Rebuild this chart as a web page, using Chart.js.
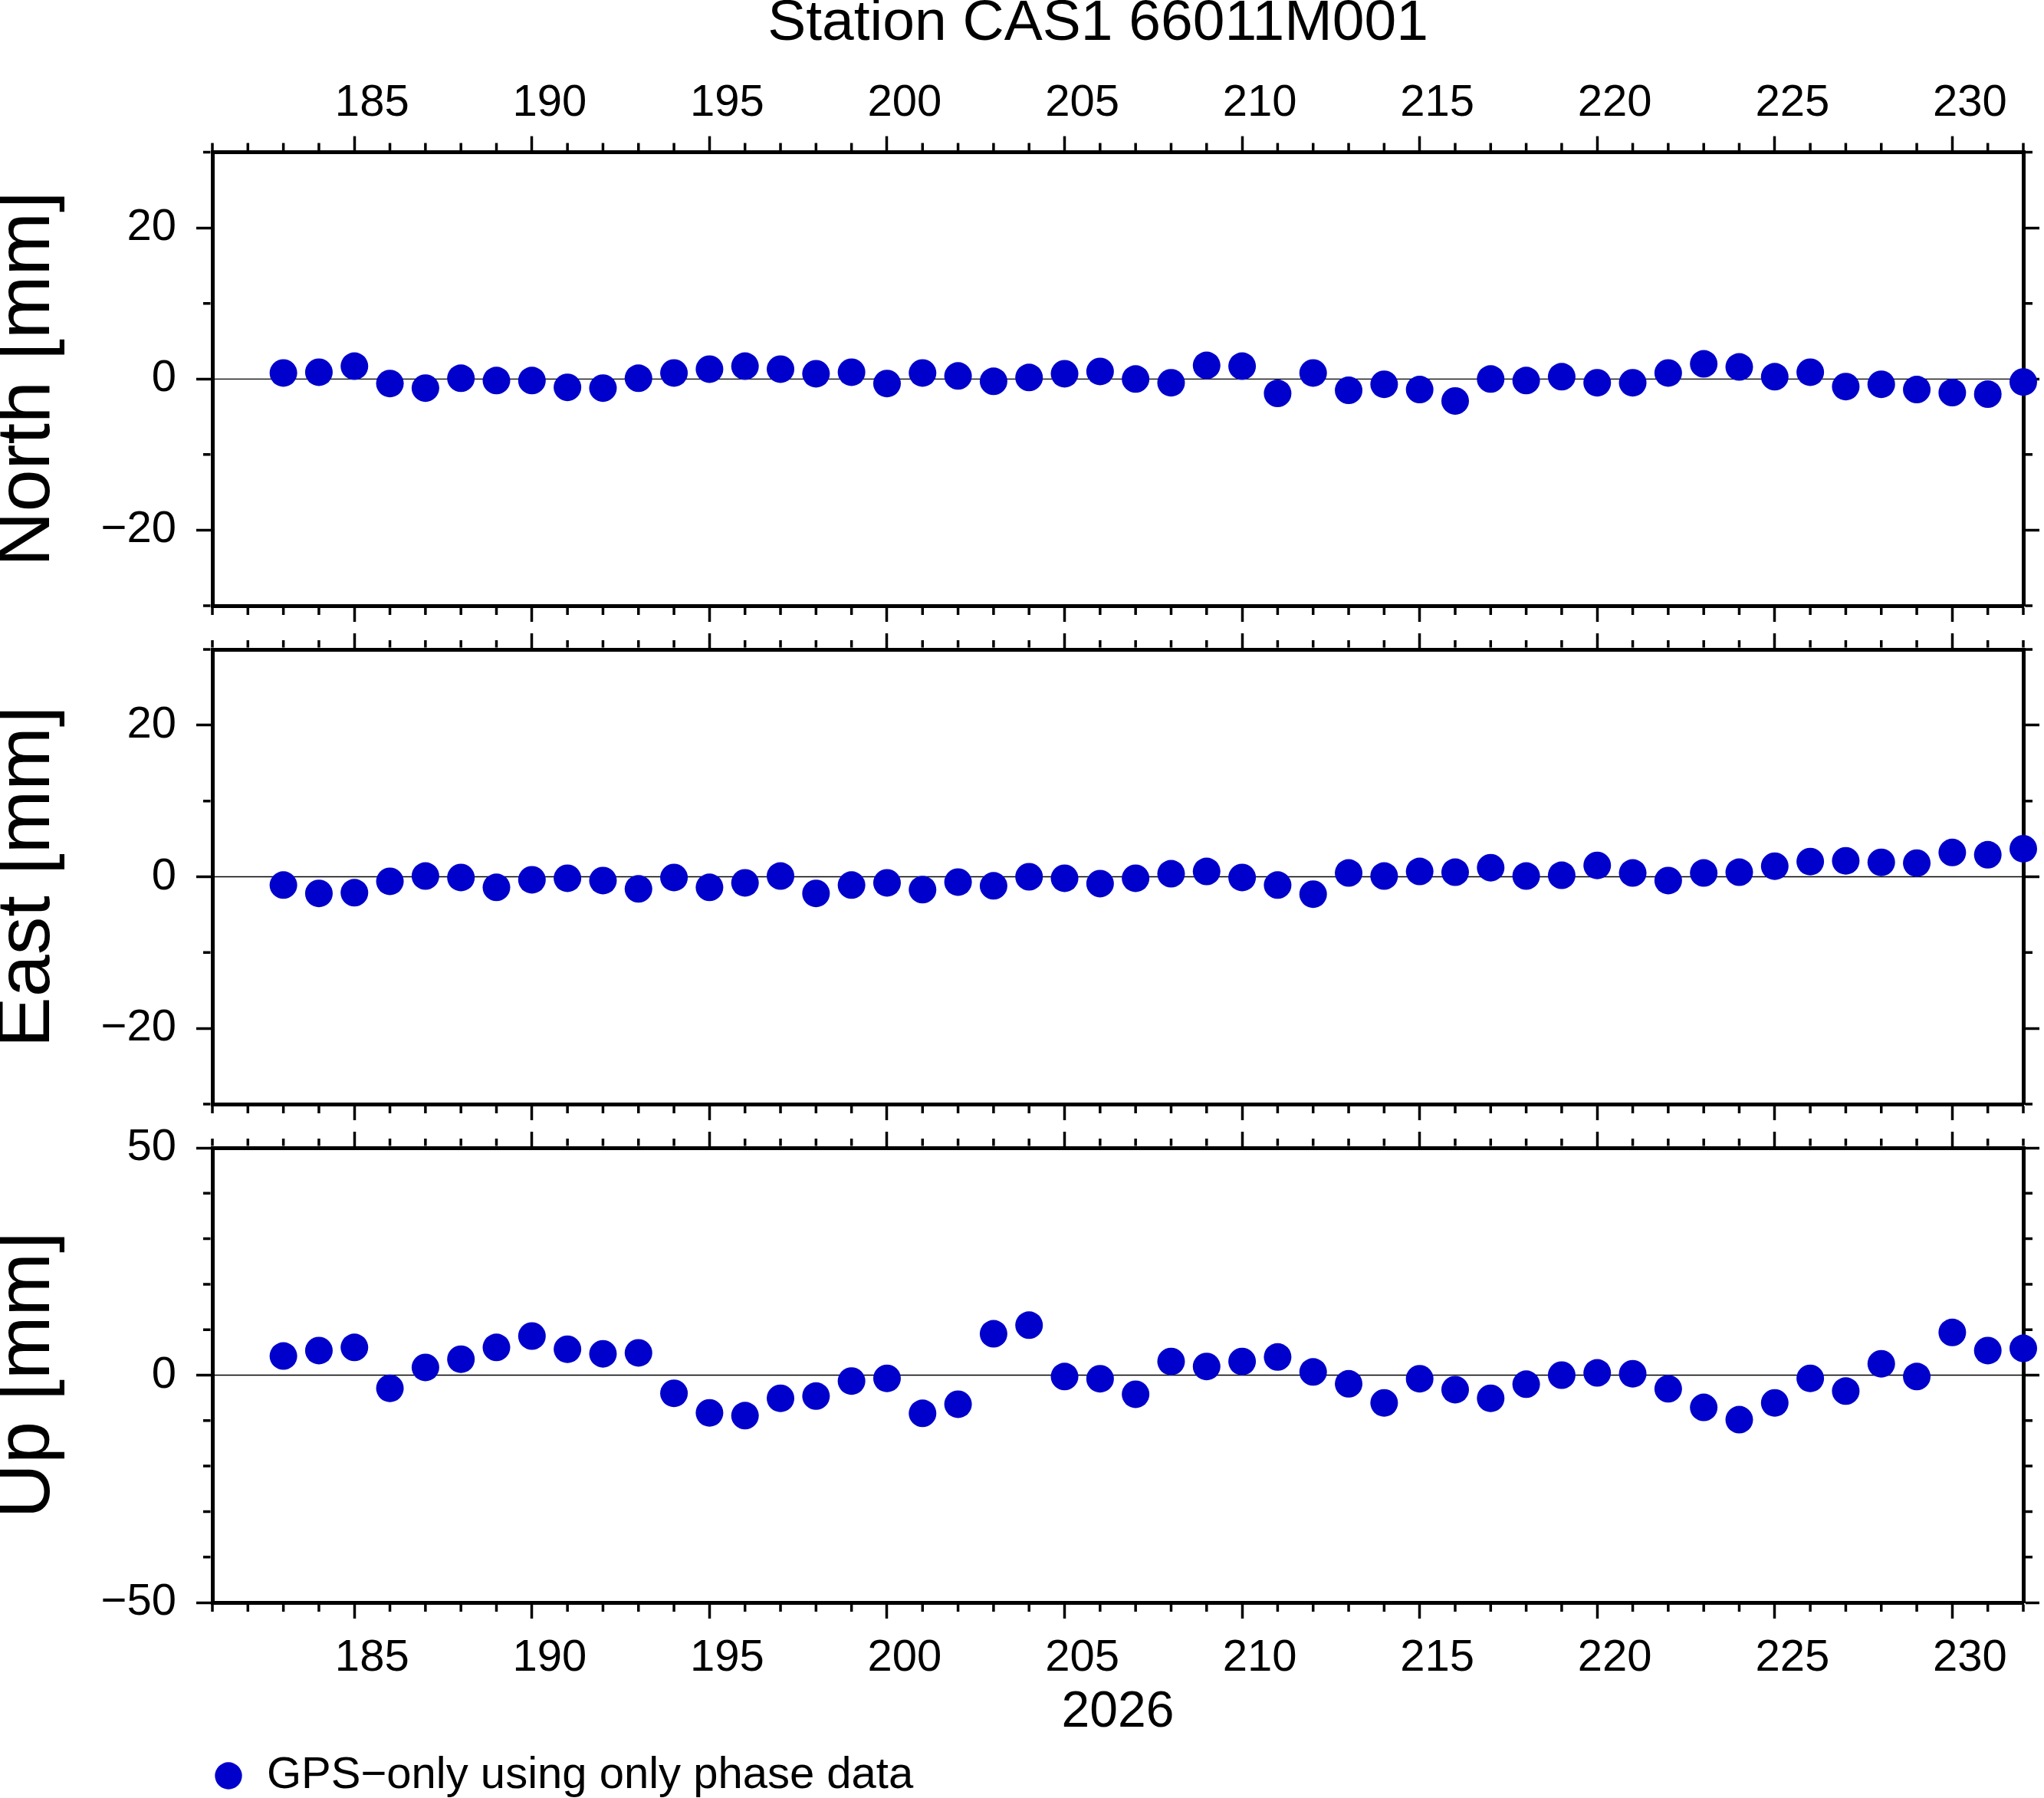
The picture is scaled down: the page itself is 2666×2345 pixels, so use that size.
<!DOCTYPE html>
<html>
<head>
<meta charset="utf-8">
<title>Station CAS1 66011M001</title>
<script src="https://cdn.jsdelivr.net/npm/chart.js@4.4.1/dist/chart.umd.min.js"></script>
<style>
  html, body { margin: 0; padding: 0; background: #fff; overflow: hidden; }
  #page { position: relative; width: 2666px; height: 2345px; overflow: hidden; background: #fff; }
  #page canvas { position: absolute; left: 0; }
</style>
</head>
<body>
<div id="page">
  <canvas id="northChart" width="2864" height="820" style="top:0px"></canvas>
  <canvas id="eastChart" width="2666" height="653" style="top:817px"></canvas>
  <canvas id="upChart" width="2666" height="888" style="top:1467px"></canvas>
</div>
<script>
// day of year 2026
const days = [183, 184, 185, 186, 187, 188, 189, 190, 191, 192,
              193, 194, 195, 196, 197, 198, 199, 200, 201, 202,
              203, 204, 205, 206, 207, 208, 209, 210, 211, 212,
              213, 214, 215, 216, 217, 218, 219, 220, 221, 222,
              223, 224, 225, 226, 227, 228, 229, 230, 231, 232];

// residuals in mm
const north = [0.8, 0.9, 1.7, -0.6, -1.2, 0.1, -0.2, -0.2, -1.1, -1.2,
               0.1, 0.8, 1.3, 1.7, 1.3, 0.7, 0.9, -0.6, 0.8, 0.4,
               -0.3, 0.2, 0.7, 1.0, 0.0, -0.5, 1.8, 1.7, -1.9, 0.8,
               -1.5, -0.7, -1.4, -2.9, 0.0, -0.2, 0.3, -0.5, -0.5, 0.8,
               2.0, 1.6, 0.3, 0.9, -1.0, -0.7, -1.4, -1.8, -2.0, -0.4];
const east = [-1.1, -2.2, -2.1, -0.6, 0.1, -0.1, -1.4, -0.4, -0.2, -0.5,
              -1.6, -0.1, -1.4, -0.8, 0.1, -2.2, -1.1, -0.8, -1.7, -0.7,
              -1.2, 0.0, -0.2, -0.9, -0.2, 0.4, 0.7, -0.1, -1.1, -2.3,
              0.5, 0.1, 0.7, 0.6, 1.2, 0.1, 0.2, 1.5, 0.5, -0.5,
              0.5, 0.6, 1.4, 2.0, 2.1, 1.9, 1.8, 3.2, 2.9, 3.7];
const up = [4.2, 5.4, 6.1, -2.9, 1.7, 3.5, 6.1, 8.6, 5.7, 4.7,
            4.9, -4.0, -8.3, -8.9, -5.1, -4.6, -1.3, -0.7, -8.4, -6.4,
            9.1, 11.0, -0.3, -0.8, -4.2, 3.0, 1.9, 3.0, 4.0, 0.7,
            -1.9, -6.1, -0.8, -3.2, -5.1, -2.0, 0.0, 0.5, 0.3, -3.0,
            -7.1, -9.8, -6.1, -0.7, -3.5, 2.5, -0.3, 9.4, 5.4, 5.9];

// axes
const xRange = [181, 232];
const xTicks = [185, 190, 195, 200, 205, 210, 215, 220, 225, 230];
const neRange = [-30, 30];
const neTicks = [-20, 0, 20];
const upRange = [-50, 50];
const upTicks = [-50, 0, 50];

const plotTitle = 'Station CAS1 66011M001';
const yearLabel = '2026';
const seriesLabel = 'GPS\u2212only using only phase data';
const dotColor = '#0000cc';

Chart.defaults.font.family = "'Liberation Sans', Arial, Helvetica, sans-serif";
Chart.defaults.color = '#000';

function fmt(v) {
    return v < 0 ? '\u2212' + Math.abs(v) : String(v);
}

// minor ticks + zero line, placed through the chart's own scales
const frameExtras = {
    id: 'frameExtras',
    beforeDatasetsDraw(chart, args, opts) {
        const { ctx, chartArea: a, scales } = chart;
        ctx.save();
        ctx.strokeStyle = '#000';

        const y0 = scales.y.getPixelForValue(0);
        ctx.lineWidth = 1.3;
        ctx.beginPath();
        ctx.moveTo(a.left, y0);
        ctx.lineTo(a.right, y0);
        ctx.stroke();

        ctx.lineWidth = 3.5;
        ctx.beginPath();
        const xs = scales.x;
        const xMajor = xs.ticks.map(t => t.value);
        for (let v = Math.ceil(xs.min); v <= xs.max; v += opts.xMinor) {
            if (xMajor.includes(v)) continue;
            const px = xs.getPixelForValue(v);
            ctx.moveTo(px, a.top - 2.5); ctx.lineTo(px, a.top - 12);
            ctx.moveTo(px, a.bottom + 2.5); ctx.lineTo(px, a.bottom + 12);
        }
        const ys = scales.y;
        const yMajor = ys.ticks.map(t => t.value);
        for (let v = ys.min; v <= ys.max; v += opts.yMinor) {
            if (yMajor.includes(v)) continue;
            const py = ys.getPixelForValue(v);
            ctx.moveTo(a.left - 2.5, py); ctx.lineTo(a.left - 12, py);
            ctx.moveTo(a.right + 2.5, py); ctx.lineTo(a.right + 12, py);
        }
        ctx.stroke();
        ctx.restore();
    }
};

const tickFont = { size: 58, lineHeight: 1 };
const frameBorder = { display: true, color: '#000', width: 5 };
const tickGrid = { drawOnChartArea: false, color: '#000', tickLength: 21, tickWidth: 3.5 };

function xAxis(position, showLabels, size, title) {
    return {
        type: 'linear',
        position: position,
        min: xRange[0],
        max: xRange[1],
        afterBuildTicks: axis => { axis.ticks = xTicks.map(v => ({ value: v })); },
        ticks: {
            display: showLabels, autoSkip: false, maxRotation: 0, minRotation: 0,
            labelOffset: 23, padding: position === 'top' ? 14 : 23, color: '#000', font: tickFont,
            callback: v => fmt(v)
        },
        grid: tickGrid,
        border: frameBorder,
        title: title
            ? { display: true, text: title, color: '#000', font: { size: 66, lineHeight: 1 }, padding: { top: 0, bottom: 20 } }
            : { display: false },
        afterFit: s => {
            s.height = size;
            s.paddingLeft = 0; s.paddingRight = 0; s.paddingTop = 0; s.paddingBottom = 0;
        }
    };
}

function yAxis(position, range, tickVals, label, size) {
    return {
        type: 'linear',
        position: position,
        min: range[0],
        max: range[1],
        afterBuildTicks: axis => { axis.ticks = tickVals.map(v => ({ value: v })); },
        ticks: {
            display: !!label, padding: 26, color: '#000', font: tickFont,
            callback: v => fmt(v)
        },
        grid: tickGrid,
        border: frameBorder,
        title: label
            ? { display: true, text: label, color: '#000', font: { size: 99, lineHeight: 0.6 }, padding: { top: 7, bottom: 0 } }
            : { display: false },
        afterFit: s => {
            s.width = size;
            s.paddingLeft = 0; s.paddingRight = 0; s.paddingTop = 0; s.paddingBottom = 0;
        }
    };
}

function makePanel(id, values, yLabel, range, tickVals, cfg) {
    const el = document.getElementById(id);
    if (!el) return;
    const points = days.map((d, i) => ({ x: d, y: values[i] }));
    new Chart(el, {
        type: 'scatter',
        data: {
            datasets: [{
                label: seriesLabel,
                data: points,
                xAxisID: 'x',
                yAxisID: 'y',
                pointStyle: 'circle',
                pointRadius: 18,
                pointHoverRadius: 18,
                backgroundColor: dotColor,
                borderWidth: 0,
                clip: false
            }]
        },
        options: {
            responsive: false,
            animation: false,
            events: [],
            layout: { padding: 0, autoPadding: false },
            scales: {
                x: xAxis('bottom', cfg.bottomLabels, cfg.bottomSize, cfg.bottomTitle),
                x2: xAxis('top', cfg.topLabels, cfg.topSize, null),
                y: yAxis('left', range, tickVals, yLabel, 277),
                y2: yAxis('right', range, tickVals, null, cfg.rightSize)
            },
            plugins: {
                title: cfg.title
                    ? { display: true, text: cfg.title, color: '#000', font: { size: 75, weight: 'normal', lineHeight: 0.8 }, padding: { top: 1, bottom: 0 } }
                    : { display: false },
                legend: cfg.legend
                    ? {
                        display: true, position: 'bottom', align: 'start', fullSize: false,
                        labels: {
                            usePointStyle: true, pointStyle: 'circle', boxWidth: 42, boxHeight: 25,
                            padding: 0, color: '#000', font: { size: 58 }
                        }
                    }
                    : { display: false },
                tooltip: { enabled: false },
                frameExtras: { xMinor: 1, yMinor: 10 }
            }
        },
        plugins: [frameExtras]
    });
}

// 1. North
makePanel('northChart', north, 'North [mm]', neRange, neTicks, {
    title: plotTitle, topLabels: true, topSize: 137.6, bottomLabels: false, bottomSize: 30, rightSize: 225
});
// 2. East
makePanel('eastChart', east, 'East [mm]', neRange, neTicks, {
    topLabels: false, topSize: 30, bottomLabels: false, bottomSize: 30, rightSize: 27
});
// 3. Up
makePanel('upChart', up, 'Up [mm]', upRange, upTicks, {
    topLabels: false, topSize: 30, bottomLabels: true, bottomSize: 197, bottomTitle: yearLabel,
    rightSize: 27, legend: true
});
</script>
</body>
</html>
